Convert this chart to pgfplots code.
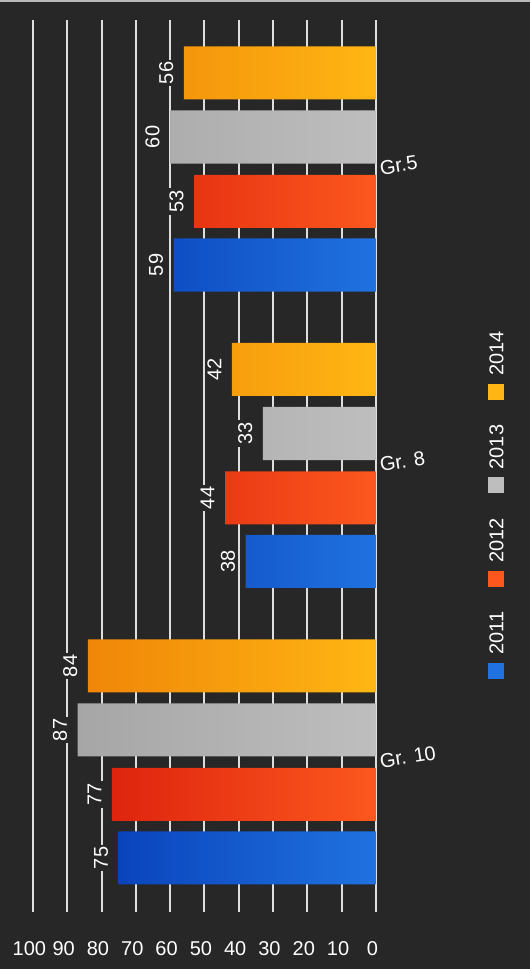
\documentclass[border=0pt]{standalone}
\usepackage{pgfplots}
\usepackage{pgfplotstable}
\pgfplotsset{compat=1.18}
\usepackage{fontspec}
\setmainfont{Liberation Sans}

\definecolor{bg}{RGB}{39,39,39}
\definecolor{gridc}{RGB}{222,222,222}
\definecolor{blueL}{RGB}{10,68,188}
\definecolor{blueR}{RGB}{32,114,224}
\definecolor{redL}{RGB}{222,36,14}
\definecolor{redR}{RGB}{252,88,30}
\definecolor{greyL}{RGB}{166,166,166}
\definecolor{greyR}{RGB}{190,190,190}
\definecolor{orangeL}{RGB}{240,134,8}
\definecolor{orangeR}{RGB}{255,182,20}

% scores per grade (0 = Gr.5, 1 = Gr. 8, 2 = Gr. 10)
\pgfplotstableread{
g v2011 v2012 v2013 v2014
0 59 53 60 56
1 38 44 33 42
2 75 77 87 84
}\scores

\newcommand{\lbl}{\fontsize{10}{12}\selectfont}

\begin{document}
\begin{tikzpicture}
\path[use as bounding box, fill=bg] (0,0) rectangle (265pt,484.5pt);
\fill[gray!55] (0,483.3pt) rectangle (265pt,484.5pt);
\begin{axis}[
  at={(16.5pt,28.5pt)}, anchor=south west,
  scale only axis, width=171.5pt, height=446pt,
  xbar, bar width=0.1788,
  x dir=reverse, y dir=reverse,
  xmin=0, xmax=100, ymin=-0.5025, ymax=2.506,
  xtick={0,10,...,100},
  ytick={0,1,2}, yticklabels={Gr.5,Gr. 8,Gr. 10},
  yticklabel pos=right,
  xmajorgrids, major grid style={gridc, line width=1pt},
  axis line style={draw=none}, major tick length=0pt,
  tick label style={white, font=\lbl},
  xticklabel style={yshift=-11pt, xshift=-1.8pt},
  yticklabel style={anchor=west, rotate=9, xshift=-1.5pt},
  /pgf/number format/assume math mode=true,
  nodes near coords,
  every node near coord/.append style={rotate=90, anchor=south, text=white,
    fill=bg, inner sep=1pt, outer sep=4.3pt, font=\lbl},
  legend style={at={(axis description cs:1.35,0.4546)}, anchor=center,
    draw=none, fill=none, text=white, font=\lbl, row sep=11pt,
    nodes={inner sep=0pt}},
  legend image code/.code={},
  reverse legend,
]
\addplot[bar shift=0.3238, left color=blueL, right color=blueR, draw=none]
  table[x=v2011, y=g] {\scores};
\addlegendentry{\rotatebox{90}{\textcolor{blueR}{\rule[-0.4pt]{8pt}{8pt}}\hspace{4pt}2011}}
\addplot[bar shift=0.1096, left color=redL, right color=redR, draw=none]
  table[x=v2012, y=g] {\scores};
\addlegendentry{\rotatebox{90}{\textcolor{redR}{\rule[-0.4pt]{8pt}{8pt}}\hspace{4pt}2012}}
\addplot[bar shift=-0.1079, left color=greyL, right color=greyR, draw=none]
  table[x=v2013, y=g] {\scores};
\addlegendentry{\rotatebox{90}{\textcolor{greyR}{\rule[-0.4pt]{8pt}{8pt}}\hspace{4pt}2013}}
\addplot[bar shift=-0.3238, left color=orangeL, right color=orangeR, draw=none]
  table[x=v2014, y=g] {\scores};
\addlegendentry{\rotatebox{90}{\textcolor{orangeR}{\rule[-0.4pt]{8pt}{8pt}}\hspace{4pt}2014}}
\end{axis}
\end{tikzpicture}
\end{document}
